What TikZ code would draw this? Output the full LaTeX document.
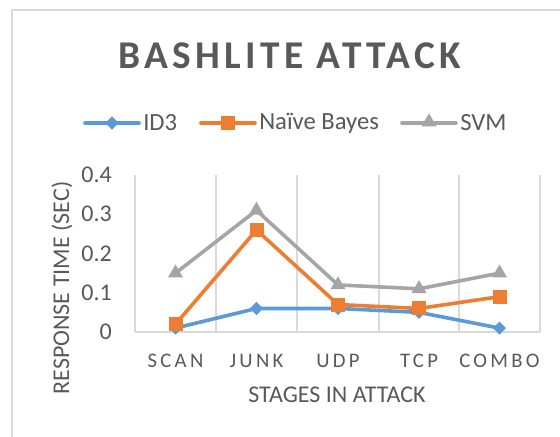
\documentclass[tikz,border=0pt]{standalone}
\usepackage{fontspec}
\setmainfont{Carlito}
\usetikzlibrary{shapes.geometric}
\definecolor{txt}{HTML}{595959}
\definecolor{grid}{HTML}{D9D9D9}
\definecolor{cid}{HTML}{5B9BD5}
\definecolor{cnb}{HTML}{ED7D31}
\definecolor{csv}{HTML}{A5A5A5}
\tikzset{
  gridline/.style={draw=grid, line width=1.1pt},
  frameline/.style={draw=grid, line width=1.1pt},
  serline/.style={line width=2.7pt, line join=round, line cap=round},
  dmark/.style={diamond, fill=cid, inner sep=0pt, minimum width=10pt, minimum height=10pt},
  smark/.style={rectangle, fill=cnb, inner sep=0pt, minimum size=10.5pt},
  tmark/.style={regular polygon, regular polygon sides=3, fill=csv, inner sep=0pt, minimum size=13pt},
  tick/.style={text=txt, font=\fontsize{18}{20}\selectfont, anchor=east, inner sep=0pt},
  cat/.style={text=txt, font=\fontsize{15.5}{18}\selectfont\addfontfeature{LetterSpace=16}, inner sep=0pt},
  axtitle/.style={text=txt, font=\fontsize{18}{20}\selectfont, inner sep=0pt},
  legtext/.style={text=txt, font=\fontsize{18.5}{20}\selectfont, anchor=west, inner sep=0pt},
}
\begin{document}
\begin{tikzpicture}[x=0.75pt, y=-0.75pt]
\useasboundingbox (0,0) rectangle (560,436);
\fill[white] (0,0) rectangle (560,436);
% frame
\coordinate (fb) at (12,440);
\coordinate (ftl) at (12,10);
\coordinate (fr) at (564,10);
\draw[frameline] (fb) -- (ftl) -- (fr);
% title
\node[text=txt, font=\fontsize{29.5}{32}\selectfont\bfseries\addfontfeature{LetterSpace=11}, inner sep=0pt] (title) at (290,56) {BASHLITE ATTACK};
% legend
\coordinate (l1a) at (85,123); \coordinate (l1b) at (139,123);
\draw[cid, serline] (l1a) -- (l1b);
\node[dmark] (l1m) at (112,123) {};
\node[legtext] (l1t) at (143,123) {ID3};
\coordinate (l2a) at (201,123); \coordinate (l2b) at (255,123);
\draw[cnb, serline] (l2a) -- (l2b);
\node[smark] (l2m) at (228,123) {};
\node[legtext] (l2t) at (259,123) {Naïve Bayes};
\coordinate (l3a) at (402,123); \coordinate (l3b) at (456,123);
\draw[csv, serline] (l3a) -- (l3b);
\node[tmark] (l3m) at (429,122) {};
\node[legtext] (l3t) at (460,123) {SVM};
% grid
\foreach \gx [count=\i] in {135,216,297,379,459,540} {
  \coordinate (gt\i) at (\gx,175);
  \coordinate (gb\i) at (\gx,332);
  \draw[gridline] (gt\i) -- (gb\i);
}
\draw[gridline] (gb1) -- (gb6);
% ticks
\foreach \v/\lab in {0/0, 0.1/0.1, 0.2/0.2, 0.3/0.3, 0.4/0.4} {
  \node[tick] (tk\lab) at (112, 332-\v*392.5) {\lab};
}
% categories
\foreach \cx/\lab in {175.5/SCAN, 256.5/JUNK, 338/UDP, 419/TCP, 499.5/COMBO} {
  \node[cat] (c\lab) at (\cx, 361) {\lab};
}
% axis titles
\node[axtitle] (xt) at (337,395) {STAGES IN ATTACK};
\node[axtitle, rotate=90] (yt) at (62,288) {RESPONSE TIME (SEC)};
% data
\def\xa{175.5}\def\xb{256.5}\def\xc{338}\def\xd{419}\def\xe{499.5}
% ID3
\coordinate (i1) at (\xa,{332-0.01*392.5});
\coordinate (i2) at (\xb,{332-0.06*392.5});
\coordinate (i3) at (\xc,{332-0.06*392.5});
\coordinate (i4) at (\xd,{332-0.05*392.5});
\coordinate (i5) at (\xe,{332-0.01*392.5});
\draw[cid, serline] (i1) -- (i2) -- (i3) -- (i4) -- (i5);
\foreach \k in {1,...,5} { \node[dmark] (im\k) at (i\k) {}; }
% Naive Bayes
\coordinate (n1) at (\xa,{332-0.02*392.5});
\coordinate (n2) at (\xb,{332-0.26*392.5});
\coordinate (n3) at (\xc,{332-0.07*392.5});
\coordinate (n4) at (\xd,{332-0.06*392.5});
\coordinate (n5) at (\xe,{332-0.09*392.5});
\draw[cnb, serline] (n1) -- (n2) -- (n3) -- (n4) -- (n5);
\foreach \k in {1,...,5} { \node[smark] (nm\k) at (n\k) {}; }
% SVM
\coordinate (s1) at (\xa,{332-0.15*392.5});
\coordinate (s2) at (\xb,{332-0.31*392.5});
\coordinate (s3) at (\xc,{332-0.12*392.5});
\coordinate (s4) at (\xd,{332-0.11*392.5});
\coordinate (s5) at (\xe,{332-0.15*392.5});
\draw[csv, serline] (s1) -- (s2) -- (s3) -- (s4) -- (s5);
\foreach \k in {1,...,5} { \node[tmark] (sm\k) at (s\k) {}; }
\end{tikzpicture}
\end{document}
